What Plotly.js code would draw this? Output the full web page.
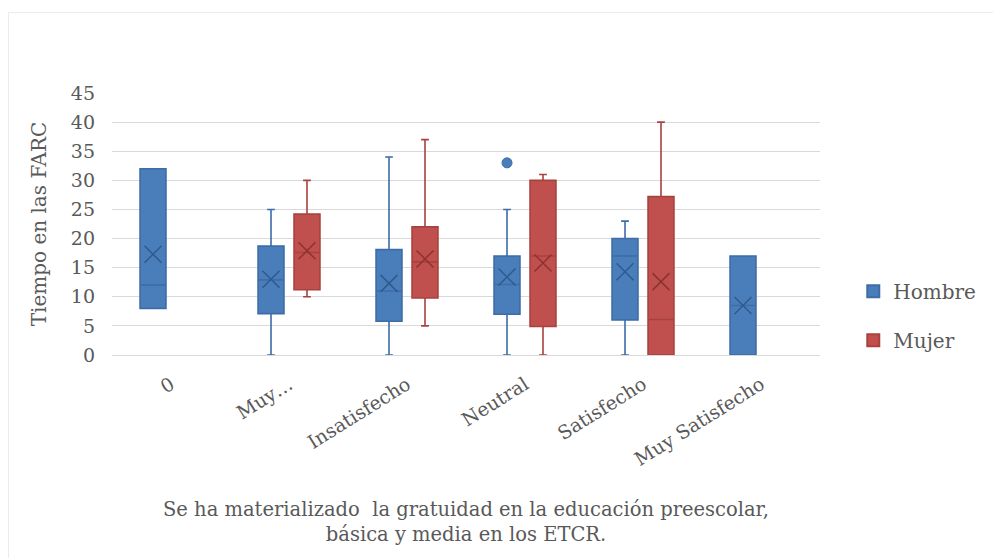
<!DOCTYPE html>
<html>
<head>
<meta charset="utf-8">
<script src="https://cdn.plot.ly/plotly-3.0.1.min.js"></script>
<style>
  html, body { margin: 0; padding: 0; background: #fff; }
  #frame { position: absolute; left: 8px; top: 12px; width: 985px; height: 546px;
           border-top: 1px solid #ececec; border-left: 1px solid #ececec; pointer-events: none; }
  #chart { width: 993px; height: 558px; }
</style>
</head>
<body>
<div id="chart"></div>
<div id="frame"></div>
<script>
// ---- data ----
const categories = ["0", "Muy…", "Insatisfecho", "Neutral", "Satisfecho", "Muy Satisfecho"];

const hombreLower  = [8,   0,    0,    0,    0,    0];
const hombreQ1     = [8,   7.1,  5.8,  7.0,  6.0,  0];
const hombreMedian = [12,  12.9, 11.0, 12.1, 17.0, 8.5];
const hombreQ3     = [32,  18.7, 18.1, 17.0, 20.0, 17.0];
const hombreUpper  = [32,  25,   34,   25,   23,   17.0];
const hombreMean   = [17.3,13.0, 12.3, 13.4, 14.3, 8.5];
const hombreOutlierCat = ["Neutral"];
const hombreOutlierVal = [33];

const mujerLower  = [null, 10,   5,    0,    0,    null];
const mujerQ1     = [null, 11.2, 9.8,  4.9,  0,    null];
const mujerMedian = [null, 17.6, 16.0, 17.0, 6.1,  null];
const mujerQ3     = [null, 24.2, 22.0, 30.0, 27.2, null];
const mujerUpper  = [null, 30,   37,   31,   40,   null];
const mujerMean   = [null, 17.9, 16.5, 15.8, 12.6, null];

// ---- helpers ----
function present(arr) { return arr.map((v, i) => v === null ? -1 : i).filter(i => i >= 0); }
function pick(arr, idx) { return idx.map(i => arr[i]); }

const hIdx = present(hombreQ1);
const mIdx = present(mujerQ1);

const blueFill = "#4a7ebb", blueLine = "#3d6ca6";
const redFill = "#c0504d", redLine = "#a9413e";

const traces = [
  {
    type: "box", name: "Hombre", legendgroup: "H", offsetgroup: "H",
    x: pick(categories, hIdx),
    q1: pick(hombreQ1, hIdx), median: pick(hombreMedian, hIdx), q3: pick(hombreQ3, hIdx),
    lowerfence: pick(hombreLower, hIdx), upperfence: pick(hombreUpper, hIdx),
    fillcolor: blueFill, line: { color: blueLine, width: 1.6 }, whiskerwidth: 0.3,
    boxpoints: false, hoverinfo: "skip"
  },
  {
    type: "box", name: "Mujer", legendgroup: "M", offsetgroup: "M",
    x: pick(categories, mIdx),
    q1: pick(mujerQ1, mIdx), median: pick(mujerMedian, mIdx), q3: pick(mujerQ3, mIdx),
    lowerfence: pick(mujerLower, mIdx), upperfence: pick(mujerUpper, mIdx),
    fillcolor: redFill, line: { color: redLine, width: 1.6 }, whiskerwidth: 0.3,
    boxpoints: false, hoverinfo: "skip"
  },
  {
    type: "scatter", mode: "markers", showlegend: false, offsetgroup: "H", legendgroup: "H",
    x: pick(categories, hIdx), y: pick(hombreMean, hIdx),
    marker: { symbol: "x-thin-open", size: 17, color: "#2f5a8e", line: { color: "#2f5a8e", width: 1.5 } },
    hoverinfo: "skip"
  },
  {
    type: "scatter", mode: "markers", showlegend: false, offsetgroup: "M", legendgroup: "M",
    x: pick(categories, mIdx), y: pick(mujerMean, mIdx),
    marker: { symbol: "x-thin-open", size: 17, color: "#8c3331", line: { color: "#8c3331", width: 1.5 } },
    hoverinfo: "skip"
  },
  {
    type: "scatter", mode: "markers", showlegend: false, offsetgroup: "H", legendgroup: "H",
    x: hombreOutlierCat, y: hombreOutlierVal,
    marker: { symbol: "circle", size: 10, color: blueFill, line: { color: blueLine, width: 1 } },
    hoverinfo: "skip"
  }
];

const fontFam = "DejaVu Serif, serif";
const txt = "#595959";
const layout = {
  width: 993, height: 558,
  paper_bgcolor: "#ffffff", plot_bgcolor: "#ffffff",
  margin: { l: 112, r: 173, t: 93, b: 203, autoexpand: false },
  font: { family: fontFam, color: txt, size: 19 },
  boxmode: "group", boxgap: 0.39, boxgroupgap: 0.28,
  scattermode: "group", scattergap: 0.39,
  showlegend: true,
  legend: {
    x: 1.047, xanchor: "left", y: 0.15, yanchor: "middle",
    font: { family: fontFam, size: 20, color: txt },
    traceorder: "grouped", tracegroupgap: 20, itemsizing: "constant"
  },
  xaxis: {
    type: "category", categoryorder: "array", categoryarray: categories,
    tickangle: -32, showgrid: false, zeroline: false, showline: false, ticks: "",
    ticklabelstandoff: 14,
    tickfont: { family: fontFam, size: 19, color: txt },
    title: {
      text: "Se ha materializado  la gratuidad en la educación preescolar,<br>básica y media en los ETCR.",
      font: { family: fontFam, size: 19.5, color: txt }, standoff: 33
    }
  },
  yaxis: {
    range: [0, 45], dtick: 5, tick0: 0,
    showgrid: true, gridcolor: "#d9d9d9", gridwidth: 1,
    zeroline: true, zerolinecolor: "#d9d9d9", zerolinewidth: 1,
    showline: false, ticks: "", ticklabelstandoff: 16,
    tickfont: { family: fontFam, size: 19, color: txt },
    title: { text: "Tiempo en las FARC", font: { family: fontFam, size: 20, color: txt }, standoff: 18 }
  }
};

Plotly.newPlot("chart", traces, layout, { displayModeBar: false, staticPlot: true });
</script>
</body>
</html>
